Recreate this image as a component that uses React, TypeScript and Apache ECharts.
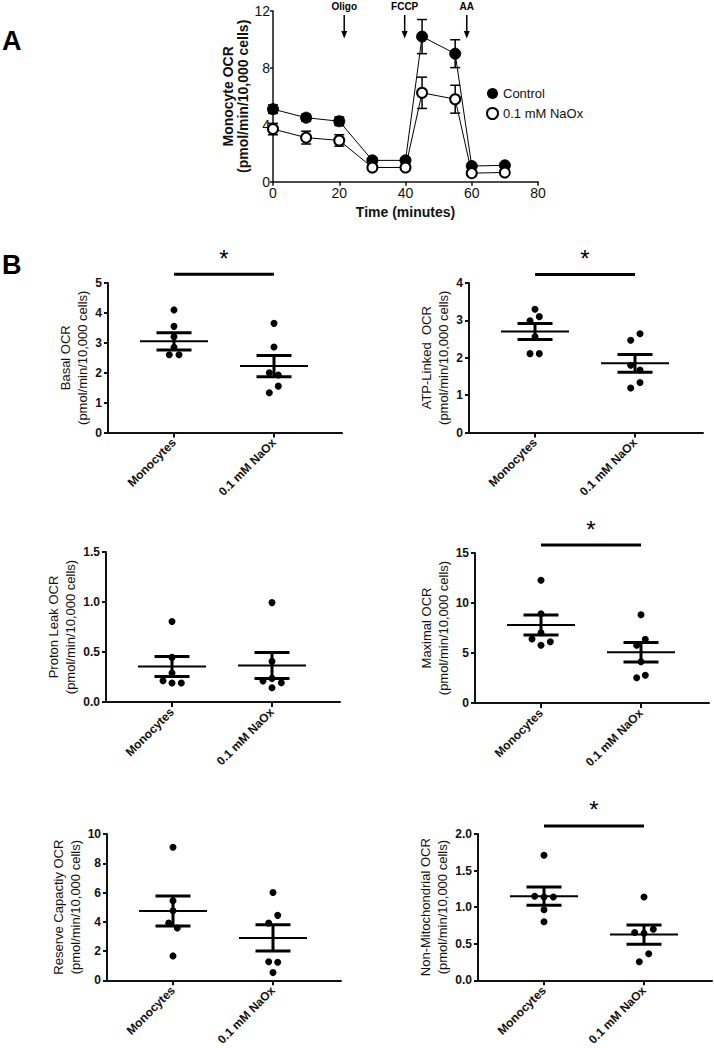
import React, { useEffect, useRef } from "react";
import * as echarts from "echarts";

// ---------- Panel A data ----------
const timePoints = [0, 10, 20, 30, 40, 45, 55, 60, 70];
const controlOCR = [5.1, 4.5, 4.25, 1.5, 1.5, 10.2, 9.0, 1.1, 1.15];
const controlSEM = [0.3, 0.25, 0.3, 0.15, 0.15, 1.2, 0.98, 0.1, 0.1];
const naoxOCR = [3.7, 3.1, 2.9, 1.0, 1.0, 6.25, 5.8, 0.6, 0.65];
const naoxSEM = [0.4, 0.45, 0.4, 0.12, 0.12, 1.1, 0.98, 0.1, 0.1];
const injections = ["Oligo", "FCCP", "AA"];
const injectionTimes = [21.5, 39.75, 58.5];

// ---------- Panel B data ----------
const groups = ["Monocytes", "0.1 mM NaOx"];

const basalMono = [4.1, 3.55, 3.2, 2.85, 2.6, 2.6];
const basalNaox = [3.65, 2.86, 2.0, 1.92, 1.55, 1.33];
const basalMean = [3.05, 2.22];
const basalSEM = [0.29, 0.355];

const atpMono = [3.3, 3.1, 2.99, 2.56, 2.11, 2.11];
const atpNaox = [2.47, 2.64, 1.8, 1.67, 1.34, 1.19];
const atpMean = [2.7, 1.85];
const atpSEM = [0.215, 0.24];

const leakMono = [0.805, 0.446, 0.29, 0.213, 0.19, 0.19];
const leakNaox = [0.994, 0.406, 0.236, 0.21, 0.193, 0.143];
const leakMean = [0.356, 0.366];
const leakSEM = [0.1, 0.13];

const maxMono = [12.27, 8.93, 7.03, 6.4, 6.13, 5.77];
const maxNaox = [8.83, 6.37, 5.77, 4.13, 2.77, 2.53];
const maxMean = [7.8, 5.07];
const maxSEM = [1.0, 0.98];

const reserveMono = [9.09, 5.44, 4.76, 3.91, 3.58, 1.67];
const reserveNaox = [6.0, 4.44, 3.91, 1.27, 1.24, 0.53];
const reserveMean = [4.74, 2.9];
const reserveSEM = [1.02, 0.9];

const nonMitoMono = [1.71, 1.15, 1.14, 1.14, 0.964, 0.8];
const nonMitoNaox = [1.14, 0.698, 0.653, 0.644, 0.364, 0.253];
const nonMitoMean = [1.15, 0.625];
const nonMitoSEM = [0.125, 0.13];

// horizontal scatter offsets (beeswarm spread) for each dot
const basalMonoJit = [0, 0, 0, 0, -0.047, 0.05];
const basalNaoxJit = [0, 0, -0.047, 0.043, 0.043, -0.047];
const atpMonoJit = [0, 0.043, -0.05, 0, -0.05, 0.043];
const atpNaoxJit = [-0.043, 0.05, -0.043, 0.05, 0.05, -0.043];
const leakMonoJit = [0, 0, 0, -0.09, 0, 0.093];
const leakNaoxJit = [0, 0, 0, -0.09, 0.093, 0];
const maxMonoJit = [0, 0, 0, -0.09, 0.093, 0];
const maxNaoxJit = [0, 0.043, -0.043, 0, 0.043, -0.043];
const reserveMonoJit = [0, 0, 0, -0.043, 0.043, 0];
const reserveNaoxJit = [0, 0.047, -0.043, -0.043, 0.047, 0];
const nonMitoMonoJit = [0, -0.093, 0, 0.093, 0, 0];
const nonMitoNaoxJit = [0, 0.093, -0.093, 0, 0.047, -0.047];

const yNames = [
  "Basal OCR",
  "ATP-Linked  OCR",
  "Proton Leak OCR",
  "Maximal OCR",
  "Reserve Capactiy OCR",
  "Non-Mitochondrial OCR",
];
const yMaxes = [5, 4, 1.5, 15, 10, 2];
const yIntervals = [1, 1, 0.5, 5, 2, 0.5];
const yDecimals = [0, 0, 1, 0, 0, 1];
const sigHeights: (number | null)[] = [5.29, 4.23, null, 15.8, null, 2.11];

const FONT = "'Liberation Sans', Arial, sans-serif";

export default function App() {
  const ref = useRef<HTMLDivElement>(null);

  useEffect(() => {
    if (!ref.current) return;
    const chart = echarts.init(ref.current, undefined, { renderer: "svg" });

    const plots = [
      { mono: basalMono, naox: basalNaox, mj: basalMonoJit, nj: basalNaoxJit, mean: basalMean, sem: basalSEM },
      { mono: atpMono, naox: atpNaox, mj: atpMonoJit, nj: atpNaoxJit, mean: atpMean, sem: atpSEM },
      { mono: leakMono, naox: leakNaox, mj: leakMonoJit, nj: leakNaoxJit, mean: leakMean, sem: leakSEM },
      { mono: maxMono, naox: maxNaox, mj: maxMonoJit, nj: maxNaoxJit, mean: maxMean, sem: maxSEM },
      { mono: reserveMono, naox: reserveNaox, mj: reserveMonoJit, nj: reserveNaoxJit, mean: reserveMean, sem: reserveSEM },
      { mono: nonMitoMono, naox: nonMitoNaox, mj: nonMitoMonoJit, nj: nonMitoNaoxJit, mean: nonMitoMean, sem: nonMitoSEM },
    ];

    const plotGrids = [
      { left: 108, top: 283, width: 234, height: 149.5 },
      { left: 469, top: 283, width: 234, height: 149.5 },
      { left: 106, top: 552, width: 234, height: 150 },
      { left: 475, top: 553, width: 234, height: 150 },
      { left: 107, top: 834, width: 234, height: 150 },
      { left: 478, top: 834, width: 234, height: 150 },
    ];
    const nameGaps = [15, 15, 23, 20, 20, 23];

    const grids: any[] = [{ left: 273, top: 11, width: 265, height: 170.7 }];
    const xAxes: any[] = [
      {
        gridIndex: 0,
        type: "value",
        min: 0,
        max: 80,
        interval: 20,
        splitLine: { show: false },
        axisLine: { lineStyle: { color: "#111", width: 1.5 } },
        axisTick: { length: 4, lineStyle: { color: "#111", width: 1.5 } },
        axisLabel: { fontSize: 14, color: "#111", margin: 4, fontFamily: FONT },
        name: "Time (minutes)",
        nameLocation: "middle",
        nameGap: 23,
        nameTextStyle: { fontSize: 14, fontWeight: "bold", color: "#111", fontFamily: FONT },
      },
    ];
    const yAxes: any[] = [
      {
        gridIndex: 0,
        type: "value",
        min: 0,
        max: 12,
        interval: 4,
        splitLine: { show: false },
        axisLine: { show: true, lineStyle: { color: "#111", width: 1.5 } },
        axisTick: { show: true, length: 3, lineStyle: { color: "#111", width: 1.5 } },
        axisLabel: { fontSize: 14, color: "#111", margin: 3, fontFamily: FONT },
        name: "Monocyte OCR\n(pmol/min/10,000 cells)",
        nameLocation: "middle",
        nameRotate: 90,
        nameGap: 19,
        nameTextStyle: { fontSize: 14, fontWeight: "bold", color: "#111", lineHeight: 15, fontFamily: FONT },
      },
    ];

    const series: any[] = [];

    // Panel A error bars
    const errSeries = (vals: number[], errs: number[], name: string) => ({
      type: "custom",
      name: name + "-err",
      xAxisIndex: 0,
      yAxisIndex: 0,
      z: 1,
      data: timePoints.map((t, i) => [t, vals[i], errs[i]]),
      encode: { x: 0, y: 1 },
      renderItem: (params: any, api: any) => {
        const t = api.value(0);
        const v = api.value(1);
        const e = api.value(2);
        const hi = api.coord([t, v + e]);
        const lo = api.coord([t, v - e]);
        const st = { stroke: "#000", lineWidth: 1.5 };
        return {
          type: "group",
          children: [
            { type: "line", shape: { x1: hi[0], y1: hi[1], x2: lo[0], y2: lo[1] }, style: st },
            { type: "line", shape: { x1: hi[0] - 5, y1: hi[1], x2: hi[0] + 5, y2: hi[1] }, style: st },
            { type: "line", shape: { x1: lo[0] - 5, y1: lo[1], x2: lo[0] + 5, y2: lo[1] }, style: st },
          ],
        };
      },
    });
    series.push(errSeries(controlOCR, controlSEM, "Control"));
    series.push(errSeries(naoxOCR, naoxSEM, "0.1 mM NaOx"));
    series.push({
      type: "line",
      name: "Control",
      xAxisIndex: 0,
      yAxisIndex: 0,
      z: 3,
      data: timePoints.map((t, i) => [t, controlOCR[i]]),
      symbol: "circle",
      symbolSize: 11,
      itemStyle: { color: "#000", borderColor: "#000", borderWidth: 1 },
      lineStyle: { color: "#000", width: 1 },
    });
    series.push({
      type: "line",
      name: "0.1 mM NaOx",
      xAxisIndex: 0,
      yAxisIndex: 0,
      z: 3,
      data: timePoints.map((t, i) => [t, naoxOCR[i]]),
      symbol: "circle",
      symbolSize: 10,
      showAllSymbol: true,
      itemStyle: { color: "#fff", borderColor: "#000", borderWidth: 2 },
      lineStyle: { color: "#000", width: 1 },
    });

    // Panel B
    plots.forEach((p, k) => {
      const gi = k + 1;
      grids.push(plotGrids[k]);
      xAxes.push({
        gridIndex: gi,
        type: "value",
        min: 0.34,
        max: 2.68,
        splitLine: { show: false },
        axisLine: { onZero: false, lineStyle: { color: "#111", width: 2 } },
        axisTick: { customValues: [1, 2], length: 5, lineStyle: { color: "#111", width: 2 } },
        axisLabel: {
          customValues: [1, 2],
          formatter: (v: number) => groups[Math.round(v) - 1] ?? "",
          rotate: 45,
          fontSize: 12,
          fontWeight: "bold",
          color: "#111",
          margin: 8,
          fontFamily: FONT,
        },
      });
      yAxes.push({
        gridIndex: gi,
        type: "value",
        min: 0,
        max: yMaxes[k],
        interval: yIntervals[k],
        splitLine: { show: false },
        axisLine: { show: true, lineStyle: { color: "#111", width: 2 } },
        axisTick: { show: true, length: 4, lineStyle: { color: "#111", width: 2 } },
        axisLabel: {
          fontSize: 12,
          fontWeight: "bold",
          color: "#111",
          margin: 6,
          fontFamily: FONT,
          formatter: (v: number) => v.toFixed(yDecimals[k]),
        },
        name: yNames[k] + "\n(pmol/min/10,000 cells)",
        nameLocation: "middle",
        nameRotate: 90,
        nameGap: nameGaps[k],
        nameTextStyle: { fontSize: 13, color: "#111", lineHeight: 17, fontFamily: FONT },
      });
      const dots = [
        ...p.mono.map((v, i) => [1 + p.mj[i], v]),
        ...p.naox.map((v, i) => [2 + p.nj[i], v]),
      ];
      series.push({
        type: "scatter",
        xAxisIndex: gi,
        yAxisIndex: gi,
        data: dots,
        symbol: "circle",
        symbolSize: 7,
        itemStyle: { color: "#000", opacity: 1 },
        z: 3,
      });
      series.push({
        type: "custom",
        xAxisIndex: gi,
        yAxisIndex: gi,
        z: 4,
        data: [
          [1, p.mean[0], p.sem[0]],
          [2, p.mean[1], p.sem[1]],
        ],
        encode: { x: 0, y: 1 },
        renderItem: (params: any, api: any) => {
          const x = api.value(0);
          const m = api.value(1);
          const s = api.value(2);
          const ml = api.coord([x - 0.34, m]);
          const mr = api.coord([x + 0.34, m]);
          const hl = api.coord([x - 0.175, m + s]);
          const hr = api.coord([x + 0.175, m + s]);
          const ll = api.coord([x - 0.175, m - s]);
          const lr = api.coord([x + 0.175, m - s]);
          const hc = api.coord([x, m + s]);
          const lc = api.coord([x, m - s]);
          return {
            type: "group",
            children: [
              { type: "line", shape: { x1: ml[0], y1: ml[1], x2: mr[0], y2: mr[1] }, style: { stroke: "#000", lineWidth: 2 } },
              { type: "line", shape: { x1: hc[0], y1: hc[1], x2: lc[0], y2: lc[1] }, style: { stroke: "#000", lineWidth: 3 } },
              { type: "line", shape: { x1: hl[0], y1: hl[1], x2: hr[0], y2: hr[1] }, style: { stroke: "#000", lineWidth: 3 } },
              { type: "line", shape: { x1: ll[0], y1: ll[1], x2: lr[0], y2: lr[1] }, style: { stroke: "#000", lineWidth: 3 } },
            ],
          };
        },
      });
      const h = sigHeights[k];
      if (h !== null) {
        series.push({
          type: "custom",
          xAxisIndex: gi,
          yAxisIndex: gi,
          clip: false,
          z: 5,
          data: [[1, 2, h]],
          encode: { x: [0, 1], y: 2 },
          renderItem: (params: any, api: any) => {
            const a = api.coord([api.value(0), api.value(2)]);
            const b = api.coord([api.value(1), api.value(2)]);
            return {
              type: "group",
              children: [
                { type: "line", shape: { x1: a[0], y1: a[1], x2: b[0], y2: b[1] }, style: { stroke: "#000", lineWidth: 3 } },
                {
                  type: "text",
                  x: (a[0] + b[0]) / 2,
                  y: a[1] - 16,
                  style: {
                    text: "*",
                    fontSize: 24,
                    fontFamily: FONT,
                    fill: "#000",
                    align: "center",
                    verticalAlign: "middle",
                  },
                },
              ],
            };
          },
        });
      }
    });

    // arrow annotations (panel A)
    const xScale = (t: number) => 273 + (t / 80) * 265;
    const arrowGraphics: any[] = [];
    injections.forEach((lab, i) => {
      const x = xScale(injectionTimes[i]);
      arrowGraphics.push({
        type: "text",
        x,
        y: 6,
        style: { text: lab, fontSize: 10, fontWeight: "bold", fontFamily: FONT, fill: "#000", align: "center", verticalAlign: "middle" },
      });
      arrowGraphics.push({
        type: "line",
        shape: { x1: x, y1: 15, x2: x, y2: 33 },
        style: { stroke: "#000", lineWidth: 1.5 },
      });
      arrowGraphics.push({
        type: "polygon",
        shape: { points: [[x - 3, 31], [x + 3, 31], [x, 38.5]] },
        style: { fill: "#000" },
      });
    });

    chart.setOption({
      animation: false,
      textStyle: { fontFamily: FONT },
      grid: grids,
      xAxis: xAxes,
      yAxis: yAxes,
      series,
      legend: {
        orient: "vertical",
        left: 486,
        top: 87,
        padding: 0,
        itemWidth: 11,
        itemHeight: 11,
        itemGap: 7,
        textStyle: { fontSize: 13, color: "#111", fontFamily: FONT },
        data: [
          { name: "Control", icon: "circle", itemStyle: { color: "#000", borderColor: "#000", borderWidth: 0 } },
          { name: "0.1 mM NaOx", icon: "circle", itemStyle: { color: "#fff", borderColor: "#000", borderWidth: 2 } },
        ],
      },
      graphic: [
        { type: "text", left: 2, top: 27, style: { text: "A", fontSize: 27, fontWeight: "bold", fontFamily: FONT, fill: "#000" } },
        { type: "text", left: 2, top: 251, style: { text: "B", fontSize: 27, fontWeight: "bold", fontFamily: FONT, fill: "#000" } },
        ...arrowGraphics,
      ],
    });

    return () => chart.dispose();
  }, []);

  return (
    <div
      ref={ref}
      style={{ position: "absolute", left: 0, top: 0, width: 714, height: 1048, background: "#fff" }}
    />
  );
}
